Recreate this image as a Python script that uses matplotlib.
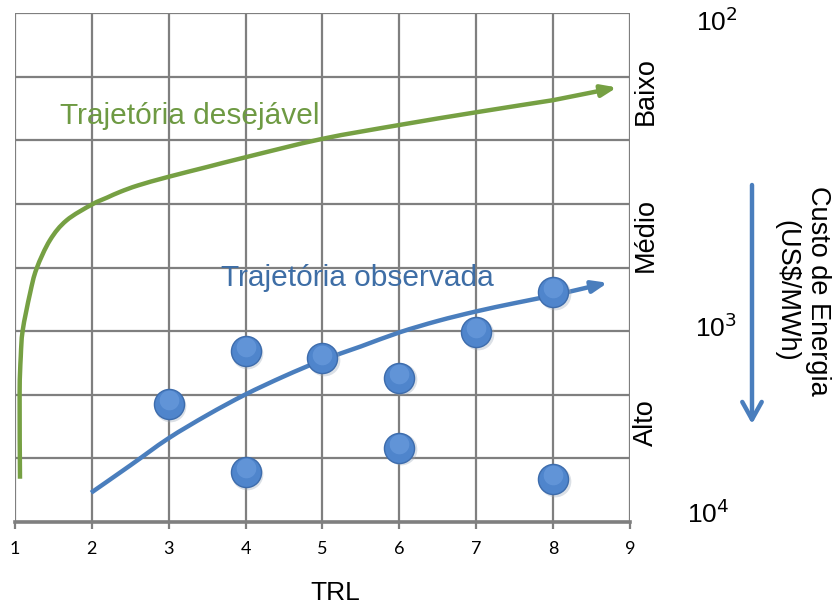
import matplotlib
matplotlib.use("Agg")
import matplotlib.pyplot as plt
import numpy as np
from matplotlib.patches import FancyArrowPatch, PathPatch
from matplotlib.path import Path

# ---- data ----
trl_ticks = [1, 2, 3, 4, 5, 6, 7, 8, 9]
obs_x = [3, 4, 4, 5, 6, 6, 7, 8, 8]
obs_y = [1.86, 2.69, 0.79, 2.57, 2.27, 1.17, 2.99, 3.61, 0.68]

desired_x = [1.065, 1.06, 1.075, 1.10, 1.195, 1.28, 1.455, 1.67, 2.0, 2.2, 2.37, 2.6,
             2.98, 3.5, 3.99, 4.99, 6.0, 7.0, 8.0, 8.83]
desired_y = [0.68, 2.02, 2.6, 3.01, 3.59, 3.98, 4.43, 4.74, 4.99, 5.10, 5.19, 5.29,
             5.42, 5.58, 5.73, 6.02, 6.24, 6.44, 6.63, 6.83]

observed_x = [1.99, 2.5, 2.99, 3.5, 3.99, 4.5, 4.99, 5.5, 6.0, 6.5, 7.0, 7.5, 8.0, 8.71]
observed_y = [0.46, 0.89, 1.31, 1.68, 2.0, 2.29, 2.54, 2.76, 2.98, 3.16, 3.31, 3.44, 3.56, 3.76]

level_labels = ["Alto", "Médio", "Baixo"]
cost_labels = ["10$^4$", "10$^3$", "10$^2$"]

GREEN = "#76a043"
GREEN_TXT = "#6e9a43"
BLUE = "#4a7ebd"
BLUE_TXT = "#3e6ea6"
GRID = "#7f7f7f"

plt.rcParams['font.family'] = ['Liberation Sans', 'DejaVu Sans']


def smooth_path(xs, ys):
    """Catmull-Rom curve through the read points, drawn as cubic Bezier segments."""
    p = np.column_stack([xs, ys]).astype(float)
    ext = np.vstack([p[0], p, p[-1]])
    verts = [tuple(p[0])]
    codes = [Path.MOVETO]
    for i in range(1, len(ext) - 2):
        p0, p1, p2, p3 = ext[i - 1], ext[i], ext[i + 1], ext[i + 2]
        c1 = p1 + (p2 - p0) / 6.0
        c2 = p2 - (p3 - p1) / 6.0
        verts += [tuple(c1), tuple(c2), tuple(p2)]
        codes += [Path.CURVE4] * 3
    return Path(verts, codes)


fig = plt.figure(figsize=(8.37, 6.08), dpi=100)
ax = fig.add_axes([15/837, 1-522/608, (630-15)/837, (522-13)/608])
ax.set_xlim(1, 9)
ax.set_ylim(0, 8)

# grid
for xv in trl_ticks:
    ax.axvline(xv, color=GRID, lw=1.6, zorder=1)
for yv in range(0, 9):
    ax.axhline(yv, color=GRID, lw=1.6, zorder=1)
for s in ax.spines.values():
    s.set_visible(False)
ax.axhline(0, color=GRID, lw=2.6, zorder=1, clip_on=False)

ax.set_xticks(trl_ticks)
ax.set_xticklabels([str(t) for t in trl_ticks], fontsize=13, family=['Lato', 'DejaVu Sans'])
ax.tick_params(axis='x', length=5, width=1.6, color=GRID, pad=9)
ax.set_yticks([])

# curves
for xs, ys, col, z in [(desired_x, desired_y, GREEN, 3), (observed_x, observed_y, BLUE, 4)]:
    ax.add_patch(PathPatch(smooth_path(xs[:-1], ys[:-1]), facecolor='none', edgecolor=col,
                           lw=3.2, capstyle='butt', zorder=z))
    ax.annotate("", xy=(xs[-1], ys[-1]), xytext=(xs[-2], ys[-2]),
                arrowprops=dict(arrowstyle="-|>,head_length=0.9,head_width=0.35", color=col,
                                lw=3.2, shrinkA=0, shrinkB=0), zorder=z)

# points (with soft shadow and highlight)
ax.scatter(np.array(obs_x) + 0.02, np.array(obs_y) - 0.03, s=520, color="#9aa7b8",
           alpha=0.35, zorder=5, linewidths=0)
ax.scatter(obs_x, obs_y, s=470, color="#4f85cc", edgecolors="#3d6cac", linewidths=1.0, zorder=6)
ax.scatter(obs_x, np.array(obs_y) + 0.06, s=200, color="#6e9fe0", alpha=0.6, zorder=7, linewidths=0)

# labels inside
ax.text(1.59, 6.38, "Trajetória desejável", color=GREEN_TXT, fontsize=21.5, va='center', ha='left', zorder=8)
ax.text(3.68, 3.84, "Trajetória observada", color=BLUE_TXT, fontsize=21.5, va='center', ha='left', zorder=8)

# x label
fig.text(335/837, 1-593/608, "TRL", fontsize=19, ha='center', va='center')

# right side level labels
for lab, yp in zip(level_labels, [423, 235, 91]):
    fig.text(646/837, 1-yp/608, lab, fontsize=19.5, rotation=90, ha='center', va='center')

for lab, (xp, yp) in zip(cost_labels, [(708, 514), (716, 328), (717, 22)]):
    fig.text(xp/837, 1-yp/608, lab, fontsize=19, ha='center', va='center')

# downward arrow
arr = FancyArrowPatch((752/837, 1-185/608), (752/837, 1-424/608), transform=fig.transFigure,
                      arrowstyle="->,head_length=0.9,head_width=0.5", color=BLUE, lw=3.2,
                      mutation_scale=14, shrinkA=0, shrinkB=0)
fig.patches.append(arr)

fig.text(802/837, 1-291/608, "Custo de Energia\n(US$/MWh)", fontsize=19.5, rotation=270,
         ha='center', va='center', linespacing=1.3, multialignment='center')

fig.savefig("out.png", dpi=100)
